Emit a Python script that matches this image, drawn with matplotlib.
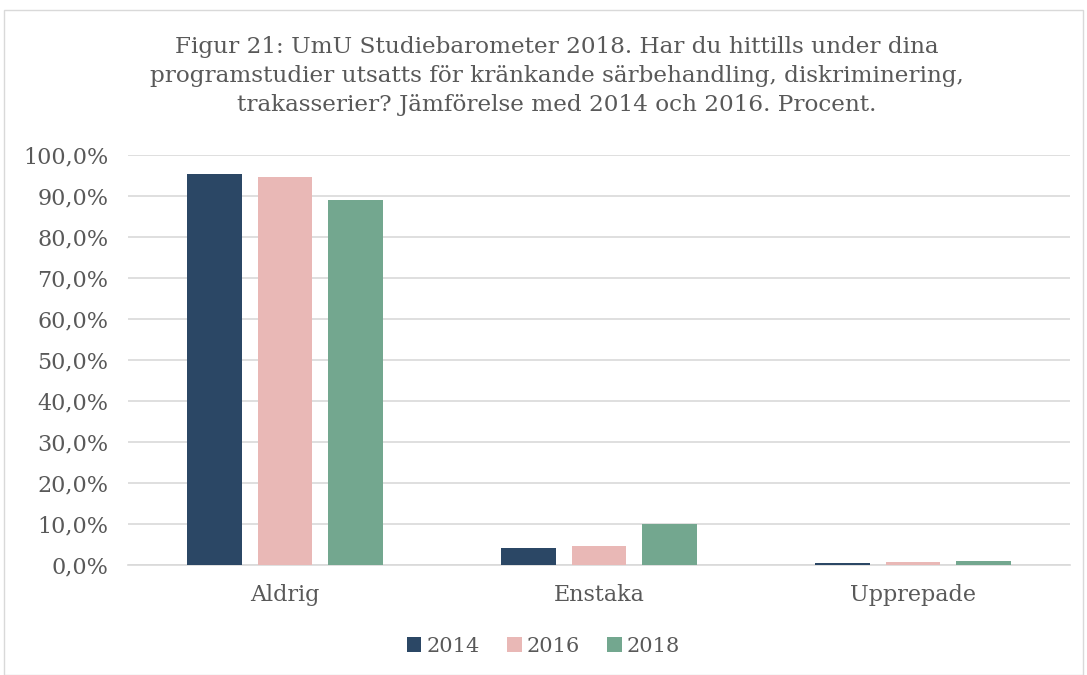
import matplotlib
matplotlib.use("Agg")
import matplotlib.pyplot as plt
from matplotlib.patches import Rectangle
import numpy as np

categories = ["Aldrig", "Enstaka", "Upprepade"]
years = ["2014", "2016", "2018"]
v2014 = [95.4, 4.1, 0.5]
v2016 = [94.7, 4.7, 0.7]
v2018 = [89.0, 9.9, 1.05]
colors = ["#2b4765", "#e9b8b6", "#73a78f"]
title = ("Figur 21: UmU Studiebarometer 2018. Har du hittills under dina\n"
         "programstudier utsatts för kränkande särbehandling, diskriminering,\n"
         "trakasserier? Jämförelse med 2014 och 2016. Procent.")

plt.rcParams['font.family'] = ['DejaVu Serif']
txt = "#595959"

fig = plt.figure(figsize=(10.87, 6.75), dpi=100)
fig.patches.append(Rectangle((4/1087, 0), 1 - 8/1087, 1 - 10/675, transform=fig.transFigure,
                             fill=False, edgecolor="#d9d9d9", linewidth=1))
ax = fig.add_axes([128/1087, 1 - 565/675, (1070-128)/1087, (565-155)/675])

x = np.arange(len(categories))
w = 0.175
offs = [-0.225, 0, 0.225]
for vals, c, o, y in zip([v2014, v2016, v2018], colors, offs, years):
    ax.bar(x + o, vals, width=w, color=c, label=y, zorder=3)

ax.set_xlim(-0.5, 2.5)
ax.set_ylim(0, 100)
ax.set_yticks(np.arange(0, 101, 10))
ax.set_yticklabels([f"{v},0%" for v in range(0, 101, 10)])
ax.set_xticks(x)
ax.set_xticklabels(categories)
ax.tick_params(axis='both', length=0, labelsize=16, colors=txt)
ax.tick_params(axis='y', pad=14)
ax.tick_params(axis='x', pad=14)
ax.grid(axis='y', color="#d9d9d9", linewidth=1.2, zorder=0)
for s in ["top", "right", "left"]:
    ax.spines[s].set_visible(False)
ax.spines["bottom"].set_color("#d9d9d9")
ax.spines["bottom"].set_linewidth(1.2)

fig.text(557/1087, 1 - 76/675, title, ha="center", va="center", fontsize=16.7, color=txt, linespacing=1.42)
leg = fig.legend(loc="center", bbox_to_anchor=(0.5, 1 - 646/675), ncol=3, frameon=False,
                 fontsize=15, handlelength=0.7, handleheight=0.7, handletextpad=0.25, columnspacing=1.3)
for t in leg.get_texts():
    t.set_color(txt)

fig.savefig("out.png", dpi=100)
